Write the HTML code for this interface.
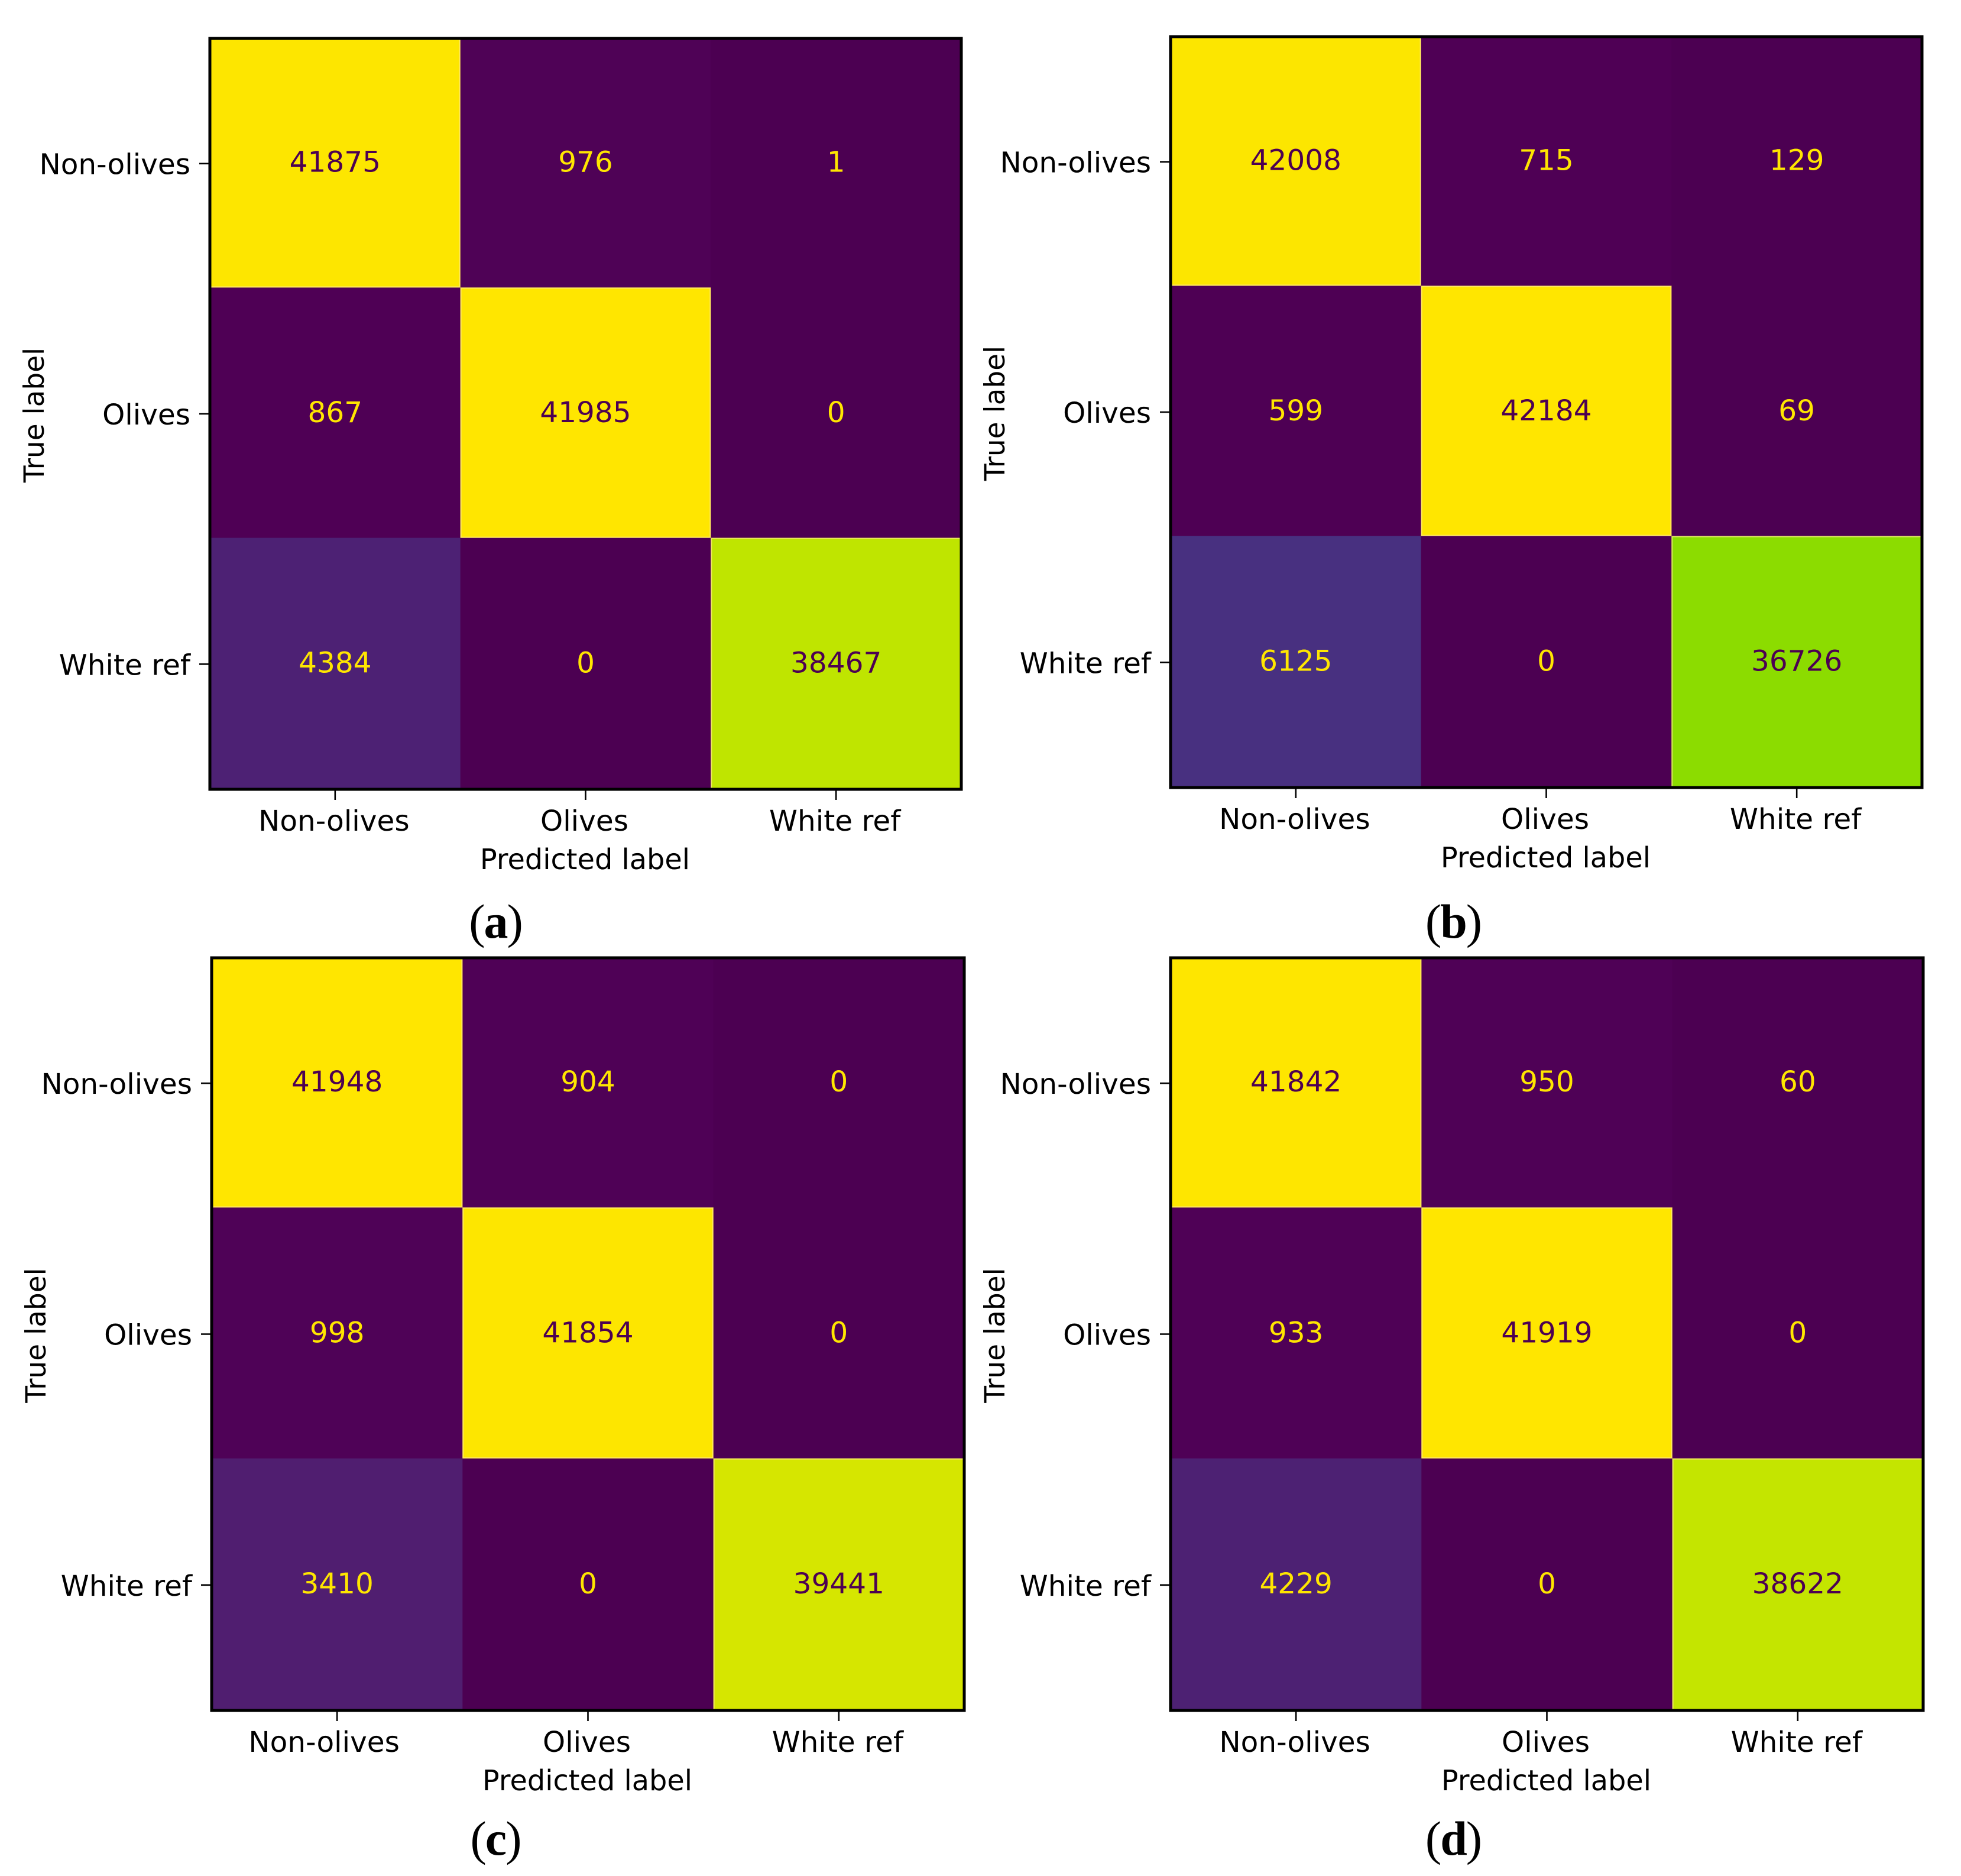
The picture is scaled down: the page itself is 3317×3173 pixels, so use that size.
<!DOCTYPE html>
<html lang="en">
<head>
<meta charset="utf-8">
<title>Confusion matrices</title>
<style>
html,body{margin:0;padding:0;background:#fff;}
svg{display:block;}
text{font-family:"DejaVu Sans",sans-serif;}
.cap{font-family:"Liberation Serif",serif;font-size:82px;font-weight:normal;letter-spacing:-2px;fill:#000;text-anchor:middle;}
.cap .b{font-weight:bold;}
</style>
</head>
<body>
<svg id="figure" xmlns="http://www.w3.org/2000/svg" width="3317" height="3173" viewBox="0 0 3317 3173">
<rect x="0" y="0" width="3317" height="3173" fill="#ffffff"/>
<g id="panels"></g>
<text class="cap" x="838" y="1586">(<tspan class="b">a</tspan>)</text>
<text class="cap" x="2458" y="1586">(<tspan class="b">b</tspan>)</text>
<text class="cap" x="838" y="3137">(<tspan class="b">c</tspan>)</text>
<text class="cap" x="2458" y="3137">(<tspan class="b">d</tspan>)</text>
</svg>
<script>
// ---- chart data ----
const categories = ["Non-olives", "Olives", "White ref"];
const xAxisTitle = "Predicted label";
const yAxisTitle = "True label";
const matrixA = [[41875, 976, 1], [867, 41985, 0], [4384, 0, 38467]];
const matrixB = [[42008, 715, 129], [599, 42184, 69], [6125, 0, 36726]];
const matrixC = [[41948, 904, 0], [998, 41854, 0], [3410, 0, 39441]];
const matrixD = [[41842, 950, 60], [933, 41919, 0], [4229, 0, 38622]];

// ---- layout (frame of each sub-plot) ----
const panels = [
  {id: "a", matrix: matrixA, left: 355, top: 65, width: 1271, height: 1270, firstLabelShift: 0},
  {id: "b", matrix: matrixB, left: 1980, top: 62, width: 1271, height: 1270, firstLabelShift: 0},
  {id: "c", matrix: matrixC, left: 358, top: 1620, width: 1273, height: 1273, firstLabelShift: -20},
  {id: "d", matrix: matrixD, left: 1980, top: 1620, width: 1273, height: 1273, firstLabelShift: 0}
];

// ---- colour scale (viridis as printed in the source figure) ----
const colorStops = [
  [0, [76, 0, 82]], [0.02, [79, 0, 85]], [0.08, [80, 30, 112]], [0.104, [77, 33, 116]],
  [0.145, [72, 48, 128]], [0.5, [31, 154, 138]], [0.75, [76, 194, 108]], [0.871, [140, 220, 0]],
  [0.916, [191, 229, 0]], [0.94, [214, 230, 0]], [1, [255, 230, 0]]
];
function colorFor(t) {
  for (let i = 1; i < colorStops.length; i++) {
    const a = colorStops[i - 1], b = colorStops[i];
    if (t <= b[0]) {
      const f = (t - a[0]) / (b[0] - a[0]);
      const c = a[1].map(function (v, k) { return Math.round(v + (b[1][k] - v) * f); });
      return "rgb(" + c.join(",") + ")";
    }
  }
  return "rgb(255,230,0)";
}

const NS = "http://www.w3.org/2000/svg";
function make(tag, attrs, parent, text) {
  const el = document.createElementNS(NS, tag);
  for (const k in attrs) el.setAttribute(k, attrs[k]);
  if (text !== undefined) el.textContent = text;
  parent.appendChild(el);
  return el;
}

const FONT = 48.5;
const TITLE_FONT = 47.8;
const INNER_ROW_NUDGE = -2;
const root = document.getElementById("panels");

panels.forEach(function (p) {
  const n = categories.length;
  const flat = p.matrix.reduce(function (acc, r) { return acc.concat(r); }, []);
  const lo = Math.min.apply(null, flat), hi = Math.max.apply(null, flat);
  const xEdge = function (i) { return p.left + p.width * i / n; };
  const yEdge = function (i) { return p.top + p.height * i / n + (i > 0 && i < n ? INNER_ROW_NUDGE : 0); };
  const xCenter = function (i) { return p.left + p.width * (i + 0.5) / n; };
  const yCenter = function (i) { return p.top + p.height * (i + 0.5) / n; };
  const norm = function (v) { return hi === lo ? 0 : (v - lo) / (hi - lo); };

  const g = make("g", {}, root);
  
  

  // heatmap cells
  p.matrix.forEach(function (row, r) {
    row.forEach(function (v, c) {
      const t = norm(v);
      const cell = make("rect", {
        x: xEdge(c), y: yEdge(r),
        width: xEdge(c + 1) - xEdge(c) + 0.5, height: yEdge(r + 1) - yEdge(r) + 0.5,
        fill: colorFor(t)
      }, g);
      
      
    });
  });

  // soft halo on the bright cells' edges
  p.matrix.forEach(function (row, r) {
    row.forEach(function (v, c) {
      const t = norm(v);
      if (t > 0.5) {
        const halo = make("rect", {
          x: xEdge(c) + 1, y: yEdge(r) + 1,
          width: xEdge(c + 1) - xEdge(c) - 2, height: yEdge(r + 1) - yEdge(r) - 2,
          fill: "none", stroke: "#ffe98a", "stroke-width": 2, "stroke-opacity": 0.7
        }, g);
        
        
      }
    });
  });

  // cell values
  p.matrix.forEach(function (row, r) {
    row.forEach(function (v, c) {
      const t = norm(v);
      const label = make("text", {
        x: xCenter(c), y: yCenter(r) + 14,
        "text-anchor": "middle", "font-size": FONT,
        fill: t > 0.5 ? "#4c0052" : "#ffe600"
      }, g, String(v));
      
      
    });
  });

  // frame
  const frame = make("rect", {
    x: p.left, y: p.top, width: p.width, height: p.height,
    fill: "none", stroke: "#000", "stroke-width": 5, "stroke-linejoin": "miter"
  }, g);
  
  

  // ticks and tick labels
  categories.forEach(function (name, i) {
    const xt = make("line", {
      x1: xCenter(i), x2: xCenter(i),
      y1: p.top + p.height, y2: p.top + p.height + 18,
      stroke: "#000", "stroke-width": 2.6
    }, g);
    
    

    const xl = make("text", {
      x: xCenter(i) - 2 + (i === 0 ? p.firstLabelShift : 0),
      y: p.top + p.height + 70,
      "text-anchor": "middle", "font-size": FONT, fill: "#000"
    }, g, name);
    
    

    const yt = make("line", {
      x1: p.left - 18, x2: p.left,
      y1: yCenter(i), y2: yCenter(i),
      stroke: "#000", "stroke-width": 2.6
    }, g);
    
    

    const yl = make("text", {
      x: p.left - 33, y: yCenter(i) + 18,
      "text-anchor": "end", "font-size": FONT, fill: "#000"
    }, g, name);
    
    
  });

  // axis titles
  const xTitle = make("text", {
    x: p.left + p.width / 2 - 1, y: p.top + p.height + 135,
    "text-anchor": "middle", "font-size": TITLE_FONT, fill: "#000"
  }, g, xAxisTitle);
  
  

  const yx = p.left - 281, yy = p.top + p.height / 2 + 2;
  const yTitle = make("text", {
    x: yx, y: yy,
    transform: "rotate(-90 " + yx + " " + yy + ")",
    "text-anchor": "middle", "font-size": 47, fill: "#000"
  }, g, yAxisTitle);
  
  
});
</script>
</body>
</html>
